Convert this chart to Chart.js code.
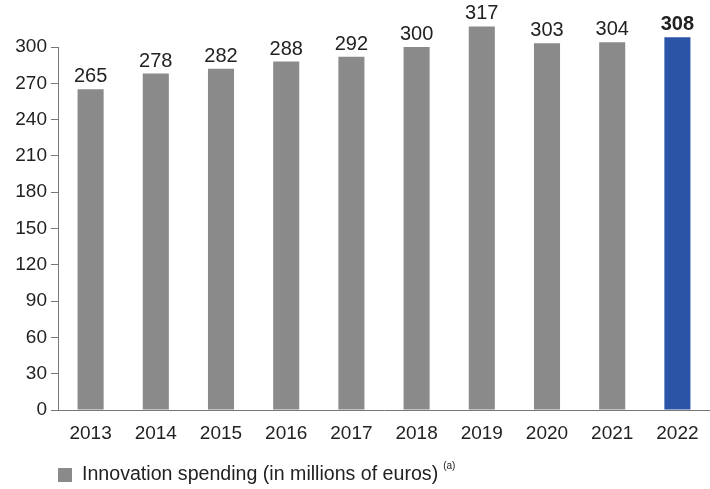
<!DOCTYPE html>
<html><head><meta charset="utf-8">
<script src="https://cdn.jsdelivr.net/npm/chart.js@4"></script>
<style>html,body{margin:0;padding:0;background:#fff}#wrap{width:710px;height:489px}</style>
</head><body><div id="wrap"><canvas id="c" width="710" height="489"></canvas></div>
<script>
const categories = ['2013','2014','2015','2016','2017','2018','2019','2020','2021','2022'];
const spending = [265, 278, 282, 288, 292, 300, 317, 303, 304, 308];
const seriesName = 'Innovation spending (in millions of euros)';
const legendNote = '(a)';
const yTicks = [0,30,60,90,120,150,180,210,240,270,300];

const gray = '#8a8a8a', blue = '#2c54a6';
const colors = categories.map((c,i)=> i===categories.length-1 ? blue : gray);
const FONT = 'Liberation Sans, Arial, sans-serif';

const labelsPlugin = {
  id:'vals',
  afterDatasetsDraw(chart){
    const ctx = chart.ctx;
    const meta = chart.getDatasetMeta(0);
    ctx.save();
    ctx.textAlign='center'; ctx.textBaseline='alphabetic';
    meta.data.forEach((bar,i)=>{
      const last = i===meta.data.length-1;
      ctx.font = (last?'bold ':'') + '20px ' + FONT;
      ctx.fillStyle = '#222';
      ctx.fillText(String(spending[i]), bar.x, bar.y - 7);
    });
    // legend
    ctx.fillStyle = gray;
    ctx.fillRect(58, 468, 14, 14);
    ctx.fillStyle = '#222';
    ctx.textAlign='left'; ctx.textBaseline='middle';
    ctx.font = '19.6px ' + FONT;
    ctx.fillText(seriesName, 82, 475);
    const w = ctx.measureText(seriesName).width;
    ctx.font = '10px ' + FONT;
    ctx.fillText(legendNote, 82 + w + 5, 466);
    ctx.restore();
  }
};

new Chart(document.getElementById('c'), {
  type:'bar',
  data:{ labels: categories, datasets:[{ label: seriesName, data: spending, backgroundColor: colors, barPercentage:0.4, categoryPercentage:1.0, clip:false }]},
  options:{
    responsive:false, animation:false,
    layout:{ padding:{ top:47, right:0, left:0, bottom:0 } },
    plugins:{ legend:{display:false}, tooltip:{enabled:false} },
    scales:{
      x:{
        grid:{ display:false },
        border:{ display:true, color:'#777', width:1 },
        ticks:{ color:'#222', font:{ family:FONT, size:19 }, padding:4, maxRotation:0 },
        afterFit(s){ s.height = 79; }
      },
      y:{
        min:0, max:300,
        afterBuildTicks(s){ s.ticks = yTicks.map(v=>({value:v})); },
        grid:{ drawOnChartArea:false, drawTicks:true, tickLength:7, color:'#777' },
        border:{ display:true, color:'#777', width:1 },
        ticks:{ color:'#222', font:{ family:FONT, size:19 }, padding:4 },
        afterFit(s){ s.width = 58; }
      }
    }
  },
  plugins:[labelsPlugin]
});
</script></body></html>
